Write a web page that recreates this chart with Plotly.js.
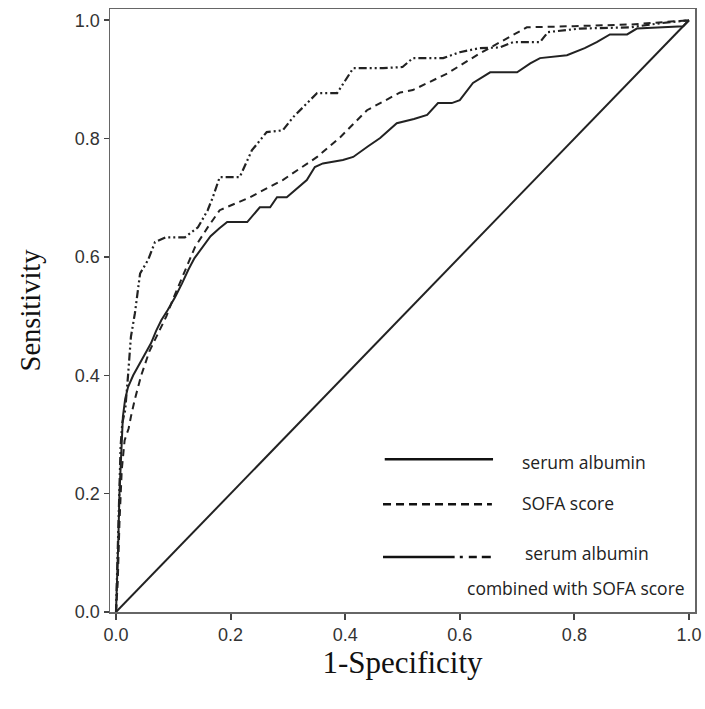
<!DOCTYPE html>
<html>
<head>
<meta charset="utf-8">
<script src="https://cdn.plot.ly/plotly-3.0.1.min.js"></script>
<style>html,body{margin:0;padding:0;background:#fff;}#chart{width:705px;height:709px;}</style>
</head>
<body>
<div id="chart"></div>
<script>
// ROC data
const albX = [0, 0.002, 0.004, 0.006, 0.009, 0.012, 0.016, 0.021, 0.03, 0.038, 0.05, 0.061, 0.07, 0.079, 0.09, 0.103, 0.115, 0.126, 0.137, 0.148, 0.165, 0.18, 0.194, 0.229, 0.24, 0.251, 0.269, 0.281, 0.298, 0.315, 0.333, 0.347, 0.361, 0.396, 0.414, 0.44, 0.461, 0.49, 0.52, 0.543, 0.562, 0.586, 0.6, 0.623, 0.653, 0.7, 0.723, 0.74, 0.765, 0.787, 0.818, 0.839, 0.862, 0.892, 0.909, 0.95, 0.99, 1.0];
const albY = [0, 0.05, 0.12, 0.2, 0.28, 0.33, 0.36, 0.38, 0.40, 0.414, 0.435, 0.454, 0.475, 0.493, 0.51, 0.532, 0.555, 0.578, 0.598, 0.612, 0.635, 0.648, 0.659, 0.659, 0.672, 0.684, 0.684, 0.701, 0.701, 0.715, 0.730, 0.752, 0.758, 0.764, 0.769, 0.787, 0.801, 0.826, 0.833, 0.840, 0.860, 0.860, 0.865, 0.894, 0.912, 0.912, 0.927, 0.936, 0.938, 0.941, 0.953, 0.963, 0.976, 0.976, 0.986, 0.988, 0.99, 1.0];

const sofaX = [0, 0.003, 0.006, 0.01, 0.015, 0.022, 0.026, 0.033, 0.044, 0.058, 0.073, 0.088, 0.10, 0.12, 0.138, 0.16, 0.181, 0.234, 0.291, 0.351, 0.391, 0.438, 0.461, 0.496, 0.518, 0.578, 0.635, 0.693, 0.717, 0.8, 0.9, 1.0];
const sofaY = [0, 0.05, 0.15, 0.24, 0.29, 0.31, 0.33, 0.36, 0.40, 0.44, 0.47, 0.50, 0.53, 0.575, 0.617, 0.65, 0.679, 0.701, 0.730, 0.769, 0.802, 0.848, 0.86, 0.878, 0.882, 0.910, 0.944, 0.975, 0.988, 0.99, 0.993, 1.0];

const combX = [0, 0.002, 0.005, 0.008, 0.011, 0.016, 0.021, 0.026, 0.033, 0.042, 0.056, 0.068, 0.086, 0.12, 0.143, 0.16, 0.169, 0.181, 0.216, 0.237, 0.263, 0.291, 0.309, 0.351, 0.386, 0.414, 0.466, 0.50, 0.518, 0.571, 0.60, 0.635, 0.67, 0.693, 0.723, 0.74, 0.754, 0.81, 0.897, 0.95, 1.0];
const combY = [0, 0.08, 0.2, 0.28, 0.32, 0.341, 0.40, 0.465, 0.505, 0.572, 0.595, 0.625, 0.633, 0.633, 0.650, 0.679, 0.701, 0.735, 0.735, 0.780, 0.811, 0.814, 0.836, 0.877, 0.877, 0.919, 0.919, 0.921, 0.936, 0.936, 0.946, 0.953, 0.954, 0.963, 0.963, 0.963, 0.980, 0.986, 0.988, 0.995, 1.0];

const refX = [0, 1];
const refY = [0, 1];

const tickVals = [0, 0.2, 0.4, 0.6, 0.8, 1.0];
const tickText = ["0.0", "0.2", "0.4", "0.6", "0.8", "1.0"];
const legendNames = ["serum albumin", "SOFA score", "serum albumin", "combined with SOFA score"];

const ink = "#222";
const traces = [
  {x: refX, y: refY, mode: "lines", line: {color: ink, width: 2}, hoverinfo: "skip"},
  {x: albX, y: albY, mode: "lines", line: {color: ink, width: 2}, name: "serum albumin"},
  {x: sofaX, y: sofaY, mode: "lines", line: {color: ink, width: 2, dash: "7px,5px"}, name: "SOFA score"},
  {x: combX, y: combY, mode: "lines", line: {color: ink, width: 2.2, dash: "8px,3px,2px,3px,2px,3px"}, name: "combined"}
];

const txtFont = {family: "Open Sans, Noto Sans, sans-serif", size: 17.5, color: ink};
const layout = {
  width: 705, height: 709,
  margin: {l: 110, r: 10, t: 9, b: 97},
  paper_bgcolor: "#fff", plot_bgcolor: "#fff",
  showlegend: false,
  xaxis: {
    range: [-0.0105, 1.0105], tickvals: tickVals, ticktext: tickText,
    ticks: "outside", ticklen: 6, tickwidth: 2, tickcolor: "#444",
    showline: true, mirror: true, linecolor: "#666", linewidth: 1.5,
    showgrid: false, zeroline: false,
    tickfont: {family: "Liberation Sans, Arial, sans-serif", size: 18, color: "#333"},
    title: {text: "1-Specificity", font: {family: "Liberation Serif, Times New Roman, serif", size: 31, color: "#111"}, standoff: 4}
  },
  yaxis: {
    range: [0, 1.019], tickvals: tickVals, ticktext: tickText,
    ticks: "outside", ticklen: 5, tickwidth: 1.5, tickcolor: "#444",
    showline: true, mirror: true, linecolor: "#666", linewidth: 1.5,
    showgrid: false, zeroline: false,
    tickfont: {family: "Liberation Sans, Arial, sans-serif", size: 18, color: "#333"},
    title: {text: "Sensitivity", font: {family: "Liberation Serif, Times New Roman, serif", size: 28.5, color: "#111"}, standoff: 26}
  },
  shapes: [
    {type: "line", xref: "x", yref: "y", x0: 0.469, x1: 0.658, y0: 0.258, y1: 0.258, line: {color: "#111", width: 2.5}},
    {type: "line", xref: "x", yref: "y", x0: 0.466, x1: 0.656, y0: 0.182, y1: 0.182, line: {color: "#111", width: 2.5, dash: "8px,5px"}},
    {type: "line", xref: "x", yref: "y", x0: 0.466, x1: 0.591, y0: 0.093, y1: 0.093, line: {color: "#111", width: 2.5}},
    {type: "line", xref: "x", yref: "y", x0: 0.600, x1: 0.656, y0: 0.093, y1: 0.093, line: {color: "#111", width: 2.5, dash: "3px,6px,8px,5px,9px"}}
  ],
  annotations: [
    {xref: "x", yref: "y", x: 0.705, y: 0.253, text: legendNames[0], showarrow: false, xanchor: "left", yanchor: "middle", font: txtFont},
    {xref: "x", yref: "y", x: 0.705, y: 0.184, text: legendNames[1], showarrow: false, xanchor: "left", yanchor: "middle", font: txtFont},
    {xref: "x", yref: "y", x: 0.710, y: 0.0997, text: legendNames[2], showarrow: false, xanchor: "left", yanchor: "middle", font: txtFont},
    {xref: "x", yref: "y", x: 0.609, y: 0.0405, text: legendNames[3], showarrow: false, xanchor: "left", yanchor: "middle", font: txtFont}
  ]
};

Plotly.newPlot("chart", traces, layout, {staticPlot: true, displayModeBar: false});
</script>
</body>
</html>
